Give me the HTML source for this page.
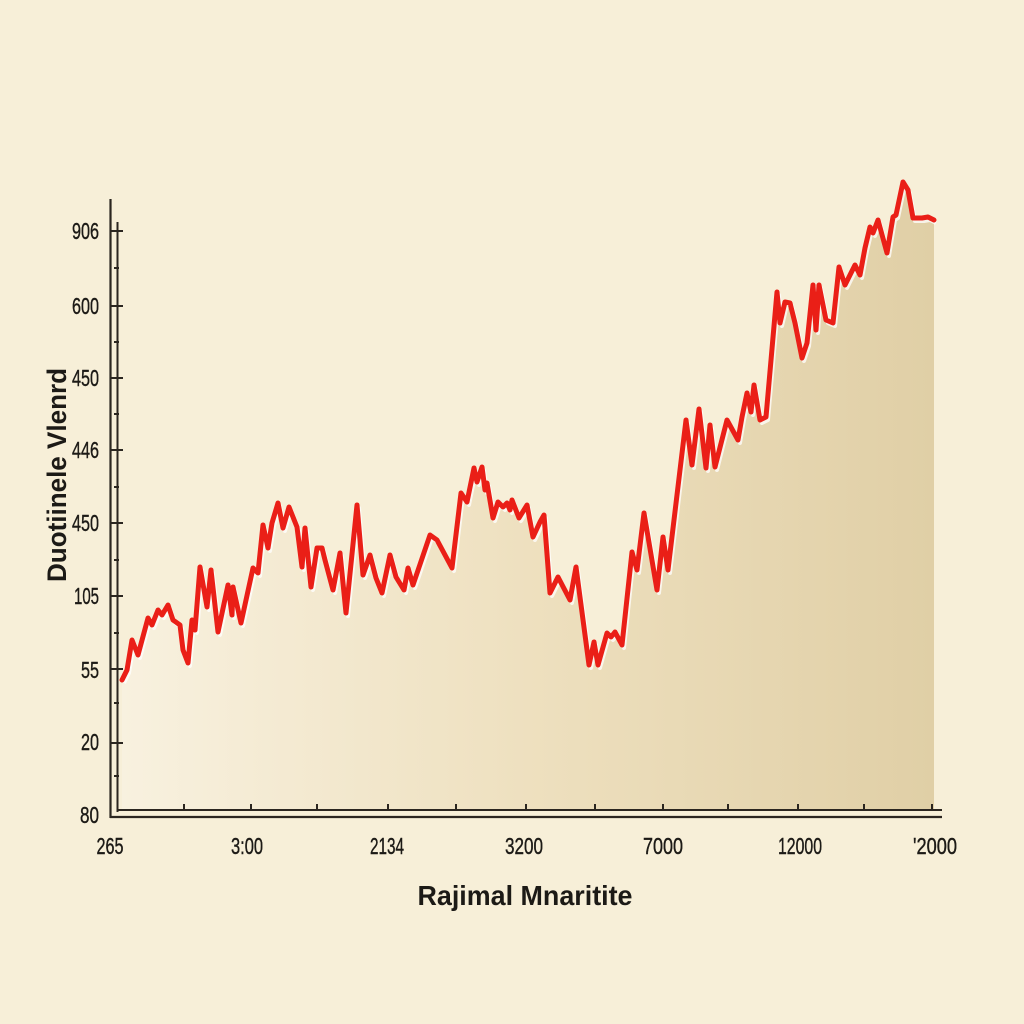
<!DOCTYPE html>
<html><head><meta charset="utf-8"><style>
html,body{margin:0;padding:0;background:#f7efd7;}
svg{display:block;}
text{font-family:"Liberation Sans",sans-serif;fill:#1c1a16;}
</style></head><body>
<svg width="1024" height="1024" viewBox="0 0 1024 1024" xmlns="http://www.w3.org/2000/svg">
<defs>
<linearGradient id="fg" x1="122" y1="0" x2="934" y2="0" gradientUnits="userSpaceOnUse">
<stop offset="0" stop-color="#f8f1df"/>
<stop offset="0.5" stop-color="#eee0bf"/>
<stop offset="1" stop-color="#e0cfa6"/>
</linearGradient>
</defs>
<rect width="1024" height="1024" fill="#f7efd8"/>
<polygon fill="url(#fg)" points="122,810 122,680 127,670 132,640 138,655 148,618 152,625 158,610 162,615 168,605 173,620 180,625 183,650 188,663 192,620 195,630 200,567 207,607 211,570 218,632 228,585 232,615 233,587 241,623 253,568 258,573 263,525 268,548 272,523 278,503 283,528 289,507 297,527 302,567 305,528 311,587 317,548 322,548 325,560 333,590 340,553 346,613 357,505 363,575 370,555 376,578 382,593 390,555 396,577 404,590 408,568 413,585 430,535 437,540 452,568 461,493 467,502 474,468 477,482 482,467 485,490 487,483 493,518 498,502 503,507 507,503 510,510 512,500 519,518 527,505 533,537 540,522 544,515 550,593 558,577 570,600 576,567 589,665 594,642 598,665 607,633 611,637 615,632 622,645 632,552 637,570 644,513 657,590 663,537 668,570 686,420 692,465 699,409 706,468 710,425 715,467 727,420 738,440 742,417 747,393 751,412 754,385 760,420 766,417 777,292 780,323 785,302 790,303 795,323 802,358 807,343 813,285 816,330 819,285 826,320 833,323 839,267 845,285 855,265 860,275 865,248 870,227 873,233 878,220 887,253 893,217 896,215 903,182 908,190 913,218 922,218 928,217 934,220 934,810"/>
<g>
<polyline transform="translate(2,3)" fill="none" stroke="#ffffff" stroke-opacity="0.75" stroke-width="4" stroke-linejoin="round" points="122,680 127,670 132,640 138,655 148,618 152,625 158,610 162,615 168,605 173,620 180,625 183,650 188,663 192,620 195,630 200,567 207,607 211,570 218,632 228,585 232,615 233,587 241,623 253,568 258,573 263,525 268,548 272,523 278,503 283,528 289,507 297,527 302,567 305,528 311,587 317,548 322,548 325,560 333,590 340,553 346,613 357,505 363,575 370,555 376,578 382,593 390,555 396,577 404,590 408,568 413,585 430,535 437,540 452,568 461,493 467,502 474,468 477,482 482,467 485,490 487,483 493,518 498,502 503,507 507,503 510,510 512,500 519,518 527,505 533,537 540,522 544,515 550,593 558,577 570,600 576,567 589,665 594,642 598,665 607,633 611,637 615,632 622,645 632,552 637,570 644,513 657,590 663,537 668,570 686,420 692,465 699,409 706,468 710,425 715,467 727,420 738,440 742,417 747,393 751,412 754,385 760,420 766,417 777,292 780,323 785,302 790,303 795,323 802,358 807,343 813,285 816,330 819,285 826,320 833,323 839,267 845,285 855,265 860,275 865,248 870,227 873,233 878,220 887,253 893,217 896,215 903,182 908,190 913,218 922,218 928,217 934,220"/>
<polyline fill="none" stroke="#ea1f17" stroke-width="5" stroke-linejoin="round" stroke-linecap="round" points="122,680 127,670 132,640 138,655 148,618 152,625 158,610 162,615 168,605 173,620 180,625 183,650 188,663 192,620 195,630 200,567 207,607 211,570 218,632 228,585 232,615 233,587 241,623 253,568 258,573 263,525 268,548 272,523 278,503 283,528 289,507 297,527 302,567 305,528 311,587 317,548 322,548 325,560 333,590 340,553 346,613 357,505 363,575 370,555 376,578 382,593 390,555 396,577 404,590 408,568 413,585 430,535 437,540 452,568 461,493 467,502 474,468 477,482 482,467 485,490 487,483 493,518 498,502 503,507 507,503 510,510 512,500 519,518 527,505 533,537 540,522 544,515 550,593 558,577 570,600 576,567 589,665 594,642 598,665 607,633 611,637 615,632 622,645 632,552 637,570 644,513 657,590 663,537 668,570 686,420 692,465 699,409 706,468 710,425 715,467 727,420 738,440 742,417 747,393 751,412 754,385 760,420 766,417 777,292 780,323 785,302 790,303 795,323 802,358 807,343 813,285 816,330 819,285 826,320 833,323 839,267 845,285 855,265 860,275 865,248 870,227 873,233 878,220 887,253 893,217 896,215 903,182 908,190 913,218 922,218 928,217 934,220"/>
</g>
<g stroke="#2b2620" fill="none">
<line x1="110.5" y1="199" x2="110.5" y2="818" stroke-width="2.2"/>
<line x1="117.5" y1="222" x2="117.5" y2="812" stroke-width="2"/>
<line x1="110" y1="817" x2="942" y2="817" stroke-width="2.2"/>
<line x1="117" y1="810" x2="942" y2="810" stroke-width="2"/>
<path stroke-width="2" d="M110 231H123M110 306H123M110 378H123M110 450H123M110 523H123M110 596H123M110 669H123M110 743H123"/>
<path stroke-width="2" d="M114 268H119M114 342H119M114 414H119M114 487H119M114 560H119M114 633H119M114 703H119M114 776H119"/>
<path stroke-width="2" d="M184 804V811M251 804V811M317 804V811M388 804V811M456 804V811M526 804V811M595 804V811M663 804V811M728 804V811M798 804V811M864 804V811M932 804V811"/>
</g>
<g font-size="23" text-anchor="end" stroke="#1c1a16" stroke-width="0.4">
<text x="99" y="239" textLength="27" lengthAdjust="spacingAndGlyphs">906</text>
<text x="99" y="314" textLength="27" lengthAdjust="spacingAndGlyphs">600</text>
<text x="99" y="386" textLength="27" lengthAdjust="spacingAndGlyphs">450</text>
<text x="99" y="458" textLength="27" lengthAdjust="spacingAndGlyphs">446</text>
<text x="99" y="531" textLength="27" lengthAdjust="spacingAndGlyphs">450</text>
<text x="99" y="604" textLength="25" lengthAdjust="spacingAndGlyphs">105</text>
<text x="99" y="678" textLength="18" lengthAdjust="spacingAndGlyphs">55</text>
<text x="99" y="750" textLength="18" lengthAdjust="spacingAndGlyphs">20</text>
<text x="99" y="823" textLength="19" lengthAdjust="spacingAndGlyphs">80</text>
</g>
<g font-size="23" text-anchor="middle" stroke="#1c1a16" stroke-width="0.4">
<text x="110" y="854" textLength="27" lengthAdjust="spacingAndGlyphs">265</text>
<text x="247" y="854" textLength="32" lengthAdjust="spacingAndGlyphs">3:00</text>
<text x="387" y="854" textLength="34" lengthAdjust="spacingAndGlyphs">2134</text>
<text x="524" y="854" textLength="38" lengthAdjust="spacingAndGlyphs">3200</text>
<text x="663" y="854" textLength="40" lengthAdjust="spacingAndGlyphs">7000</text>
<text x="800" y="854" textLength="44" lengthAdjust="spacingAndGlyphs">12000</text>
<text x="935" y="854" textLength="44" lengthAdjust="spacingAndGlyphs">'2000</text>
</g>
<text x="525" y="905" font-size="28" font-weight="bold" text-anchor="middle" textLength="215" lengthAdjust="spacingAndGlyphs">Rajimal Mnaritite</text>
<text transform="translate(66,475) rotate(-90)" font-size="27" font-weight="bold" text-anchor="middle" textLength="214" lengthAdjust="spacingAndGlyphs">Duotiinele Vlenrd</text>
</svg>
</body></html>
